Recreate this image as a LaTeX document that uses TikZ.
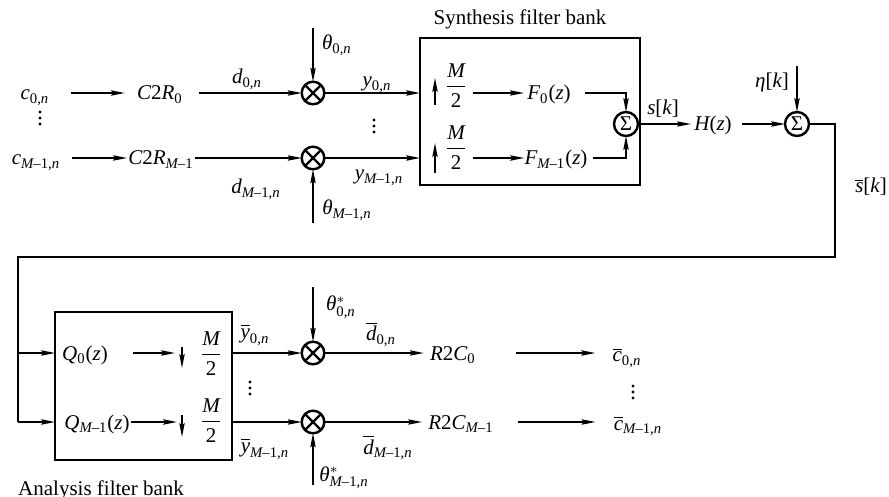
\documentclass[tikz,border=0pt]{standalone}
\usepackage[no-math]{fontspec}
\setmainfont{Liberation Serif}[NFSSFamily=libser]
\DeclareSymbolFont{letters}{TU}{libser}{m}{it}
\DeclareSymbolFont{operators}{TU}{libser}{m}{n}
\Umathchardef\theta="0 \symletters "03B8
\Umathchardef\eta="0 \symletters "03B7
\Umathchardef\Sigma="0 \symoperators "03A3
\Umathcode`,="6 \symoperators "2C
\Umathcode`-="2 \symoperators "2013
\usetikzlibrary{arrows.meta}
\begin{document}
\begin{tikzpicture}[x=0.5pt,y=-0.5pt,
 every node/.style={font=\fontsize{10.5}{12.6}\selectfont},
 lbl/.style={inner sep=0pt, anchor=base},
 arr/.style={line width=0.75pt, -{Stealth[length=7pt,width=2.7pt,inset=1.2pt]}},
 ln/.style={line width=0.75pt},
 mult/.style={circle, draw, line width=1.2pt, minimum size=11.3pt, inner sep=0pt, outer sep=0pt},
 sumn/.style={circle, draw, line width=1.2pt, minimum size=12pt, inner sep=0pt, outer sep=0pt},
 bank/.style={draw, line width=1.4pt, inner sep=0pt, outer sep=0pt},
 crs/.style={line width=1.2pt},
 dotc/.style={circle, fill, inner sep=0pt, minimum size=1.6pt}]
\useasboundingbox (0,0) rectangle (889,497);
% ---- top row
\node[lbl] (c0) at (35,100) {$c_{0,n}$};
\node[lbl, inner xsep=6pt] (cr0) at (160,100) {$C2R_0$};
\node[mult] (m0) at (313,93) {};
\node[lbl] (d0) at (247,84) {$d_{0,n}$};
\node[lbl] (th0) at (337,50) {$\theta_{0,n}$};
\coordinate (th0s) at (313,28);
\node[lbl] (y0) at (377,87) {$y_{0,n}$};
\node[dotc] (dl1) at (40,112) {}; \node[dotc] (dl2) at (40,118) {}; \node[dotc] (dl3) at (40,124) {};
\node[dotc] (dm1) at (374,120) {}; \node[dotc] (dm2) at (374,126) {}; \node[dotc] (dm3) at (374,132) {};
% ---- second row
\node[lbl] (c1) at (36,165) {$c_{M-1,n}$};
\node[lbl, inner xsep=0.5pt] (cr1) at (161,165) {$C2R_{M-1}$};
\node[mult] (m1) at (313,158) {};
\node[lbl] (d1) at (256,194) {$d_{M-1,n}$};
\node[lbl] (th1) at (347,215) {$\theta_{M-1,n}$};
\coordinate (th1s) at (313,223);
\node[lbl] (y1) at (379,180) {$y_{M-1,n}$};
% ---- synthesis filter bank
\node[bank, minimum width=110pt, minimum height=73.5pt] (sb) at (530,111.5) {};
\node[lbl] (sbt) at (520,25) {Synthesis filter bank};
\coordinate (u0b) at (435,105); \coordinate (u0t) at (435,78);
\node[lbl] (fr0) at (456,92) {$\displaystyle\frac{M}{2}$};
\node[lbl, inner xsep=1.5pt] (F0) at (549,100) {$F_0(z)$};
\coordinate (u1b) at (435,173); \coordinate (u1t) at (435,143);
\node[lbl] (fr1) at (456,154) {$\displaystyle\frac{M}{2}$};
\node[lbl] (F1) at (556,165) {$F_{M-1}(z)$};
\node[sumn] (s1) at (626,124) {$\Sigma$};
\node[lbl] (sk) at (663,115) {$s[k]$};
\node[lbl, inner xsep=1.5pt] (H) at (713,131) {$H(z)$};
\node[sumn] (s2) at (797,124) {$\Sigma$};
\node[lbl] (eta) at (772,88) {$\eta[k]$};
\coordinate (etas) at (797,66);
\node[lbl] (sbar) at (871,193) {$\overline{s}[k]$};
\coordinate (fbA) at (835,257);
\coordinate (fbB) at (18,257);
% ---- analysis filter bank
\node[bank, minimum width=88.5pt, minimum height=74pt] (ab) at (143.5,386) {};
\node[lbl] (abt) at (101,495) {Analysis filter bank};
\node[lbl] (q0) at (85,360) {$Q_0(z)$};
\coordinate (dn0t) at (182,347); \coordinate (dn0b) at (182,368);
\node[lbl] (fa0) at (211,360) {$\displaystyle\frac{M}{2}$};
\node[lbl] (q1) at (97,429) {$Q_{M-1}(z)$};
\coordinate (dn1t) at (182,415); \coordinate (dn1b) at (182,437);
\node[lbl] (fa1) at (211,427) {$\displaystyle\frac{M}{2}$};
\node[mult] (m2) at (313,353) {};
\node[mult] (m3) at (313,422) {};
\node[lbl] (yb0) at (255,338) {$\overline{y}_{0,n}$};
\node[lbl] (yb1) at (265,452) {$\overline{y}_{M-1,n}$};
\node[lbl] (ths0) at (341,311) {$\theta^{*}_{0,n}$};
\coordinate (ths0s) at (313,287);
\node[lbl] (ths1) at (344,481) {$\theta^{*}_{M-1,n}$};
\coordinate (ths1s) at (313,485);
\node[lbl] (db0) at (381,341) {$\overline{d}_{0,n}$};
\node[lbl] (db1) at (388,454) {$\overline{d}_{M-1,n}$};
\node[dotc] (da1) at (250,382) {}; \node[dotc] (da2) at (250,388) {}; \node[dotc] (da3) at (250,394) {};
\node[lbl] (r0) at (453,360) {$R2C_0$};
\node[lbl] (r1) at (461,429) {$R2C_{M-1}$};
\node[lbl] (cb0) at (627,362) {$\overline{c}_{0,n}$};
\node[lbl] (cb1) at (638,430) {$\overline{c}_{M-1,n}$};
\node[dotc] (dr1) at (633,386) {}; \node[dotc] (dr2) at (633,392) {}; \node[dotc] (dr3) at (633,398) {};
% ---- connectors, top part
\draw[arr, shorten <=10.5pt] (c0.east |- m0) -- (cr0.west |- m0);
\draw[arr, shorten <=2pt] (cr0.east |- m0) -- (m0.west);
\draw[arr] (th0s) -- (m0.north);
\draw[arr] (m0.east) -- (sb.west |- m0);
\draw[arr, shorten <=5.5pt] (c1.east |- m1) -- (cr1.west |- m1);
\draw[arr] (cr1.east |- m1) -- (m1.west);
\draw[arr] (th1s) -- (m1.south);
\draw[arr] (m1.east) -- (sb.west |- m1);
\draw[arr] (u0b) -- (u0t);
\draw[arr] (u1b) -- (u1t);
\draw[arr, shorten <=2.5pt] (fr0.east |- m0) -- (F0.west |- m0);
\draw[arr, shorten <=2.5pt] (fr1.east |- m1) -- (F1.west |- m1);
\draw[arr, shorten <=5.5pt] (F0.east |- m0) -| (s1.north);
\draw[arr, shorten <=2.5pt] (F1.east |- m1) -| (s1.south);
\draw[arr] (s1.east) -- (H.west |- s1);
\draw[arr, shorten <=3.5pt] (H.east |- s1) -- (s2.west);
\draw[arr] (etas) -- (s2.north);
\draw[ln] (s2.east) -| (fbA) -- (fbB) -- (fbB |- m3);
\draw[arr] (fbB |- m2) -- (ab.west |- m2);
\draw[arr] (fbB |- m3) -- (ab.west |- m3);
% ---- connectors, bottom part
\draw[arr, shorten <=12.5pt, shorten >=3.5pt] (q0.east |- m2) -- (dn0t |- m2);
\draw[arr, shorten <=0.5pt, shorten >=2.5pt] (q1.east |- m3) -- (dn1t |- m3);
\draw[arr] (dn0t) -- (dn0b);
\draw[arr] (dn1t) -- (dn1b);
\draw[arr] (ab.east |- m2) -- (m2.west);
\draw[arr] (ab.east |- m3) -- (m3.west);
\draw[arr] (ths0s) -- (m2.north);
\draw[arr] (ths1s) -- (m3.south);
\draw[arr, shorten >=3pt] (m2.east) -- (r0.west |- m2);
\draw[arr, shorten >=3pt] (m3.east) -- (r1.west |- m3);
\draw[arr, shorten <=20pt, shorten >=8.5pt] (r0.east |- m2) -- (cb0.west |- m2);
\draw[arr, shorten <=12pt, shorten >=9pt] (r1.east |- m3) -- (cb1.west |- m3);
% ---- crosses in multipliers
\foreach \m in {m0,m1,m2,m3}
  \draw[crs] (\m.north west) -- (\m.south east) (\m.north east) -- (\m.south west);
\end{tikzpicture}
\end{document}
